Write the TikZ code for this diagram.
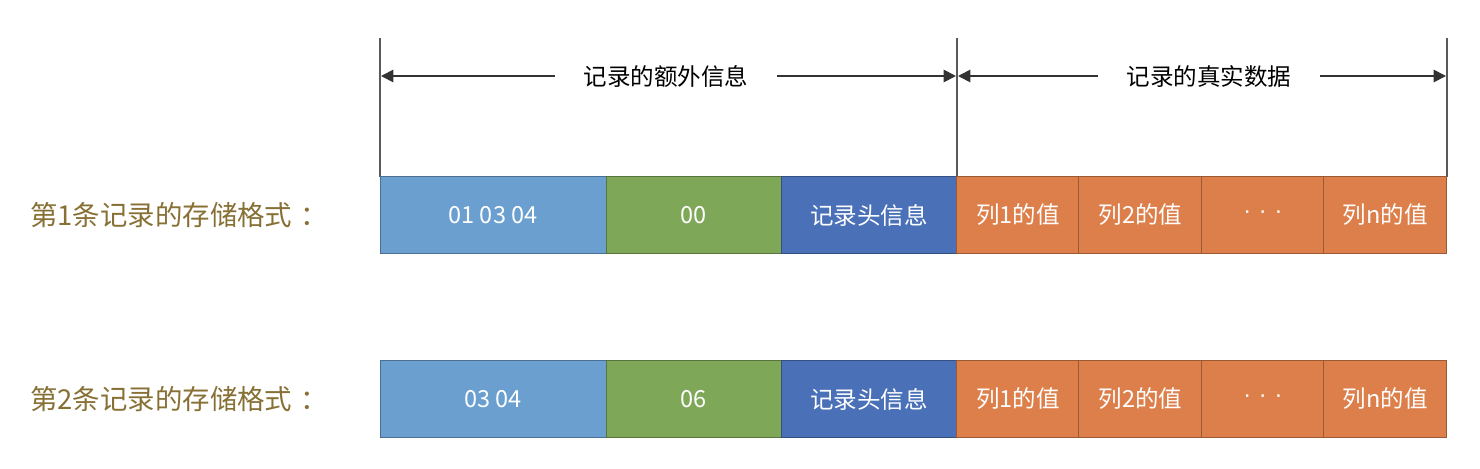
\documentclass[tikz,border=0pt]{standalone}
\usepackage{fontspec}
\setmainfont{Noto Sans CJK SC}
\newfontfamily\dotfont{Liberation Sans}
\usetikzlibrary{arrows.meta,positioning}

\definecolor{cellblue}{RGB}{106,159,208}
\definecolor{cellgreen}{RGB}{126,167,88}
\definecolor{celldark}{RGB}{74,112,184}
\definecolor{cellorange}{RGB}{221,127,74}
\definecolor{labelgold}{RGB}{135,112,52}

\tikzset{
    cell/.style={draw=black!45, line width=0.5pt, minimum height=1.54cm,
        inner sep=0pt, outer sep=0pt, text=white,
        font=\fontsize{13.4}{16}\selectfont},
    valcell/.style={cell, fill=cellorange, draw=cellorange!70!black},
    guide/.style={draw=black!65, line width=1.3pt},
    span/.style={draw=black!80, line width=1pt, -{Triangle[length=7pt,width=7pt]}},
    head/.style={font=\fontsize{13.4}{16}\selectfont, inner sep=0pt},
    rowlabel/.style={anchor=west, text=labelgold, inner sep=0pt,
        font=\fontsize{15.6}{18}\selectfont},
}

\begin{document}
\begin{tikzpicture}[x=0.02cm, y=-0.02cm]
    \useasboundingbox ({0}, {0}) rectangle ({1480}, {468});

    % Header lines
    \coordinate (lt) at ({380}, {38});
    \coordinate (lb) at ({380}, {177});
    \coordinate (mt) at ({957}, {38});
    \coordinate (mb) at ({957}, {177});
    \coordinate (rt) at ({1447}, {38});
    \coordinate (rb) at ({1447}, {177});
    \draw[guide] (lt) to (lb);
    \draw[guide] (mt) to (mb);
    \draw[guide] (rt) to (rb);

    % Header arrows
    \coordinate (la) at ({381}, {76});
    \coordinate (ma) at ({956}, {76});
    \coordinate (mc) at ({958}, {76});
    \coordinate (ra) at ({1446}, {76});
    \node[head] (extra) at ({666}, {76}) {记录的额外信息};
    \node[head] (real) at ({1209}, {76}) {记录的真实数据};
    \draw[span] ([xshift=-16pt]extra.west) to (la);
    \draw[span] ([xshift=16pt]extra.east) to (ma);
    \draw[span] ([xshift=-16pt]real.west) to (mc);
    \draw[span] ([xshift=16pt]real.east) to (ra);

    % Records
    \foreach \y/\n/\lens/\flag in {215/1/01 03 04/00, 399/2/03 04/06} {
        \node[rowlabel] (name\n) at ({30}, {\y}) {第\n 条记录的存储格式\hspace{0.3em}：};
        \node[cell, fill=cellblue, draw=cellblue!70!black, minimum width=4.52cm]
            (lens\n) at ({493}, {\y}) {\lens};
        \node[cell, fill=cellgreen, draw=cellgreen!70!black, minimum width=3.5cm,
            right=0pt of lens\n] (null\n) {\flag};
        \node[cell, fill=celldark, draw=celldark!70!black, minimum width=3.52cm,
            right=0pt of null\n] (hdr\n) {记录头信息};
        \node[valcell, minimum width=2.44cm, right=0pt of hdr\n] (col1\n) {列1的值};
        \node[valcell, minimum width=2.46cm, right=0pt of col1\n] (col2\n) {列2的值};
        \node[valcell, minimum width=2.44cm, right=0pt of col2\n] (dots\n) {\dotfont ·\,\,·\,\,·};
        \node[valcell, minimum width=2.46cm, right=0pt of dots\n] (coln\n) {列n的值};
    }
\end{tikzpicture}
\end{document}
